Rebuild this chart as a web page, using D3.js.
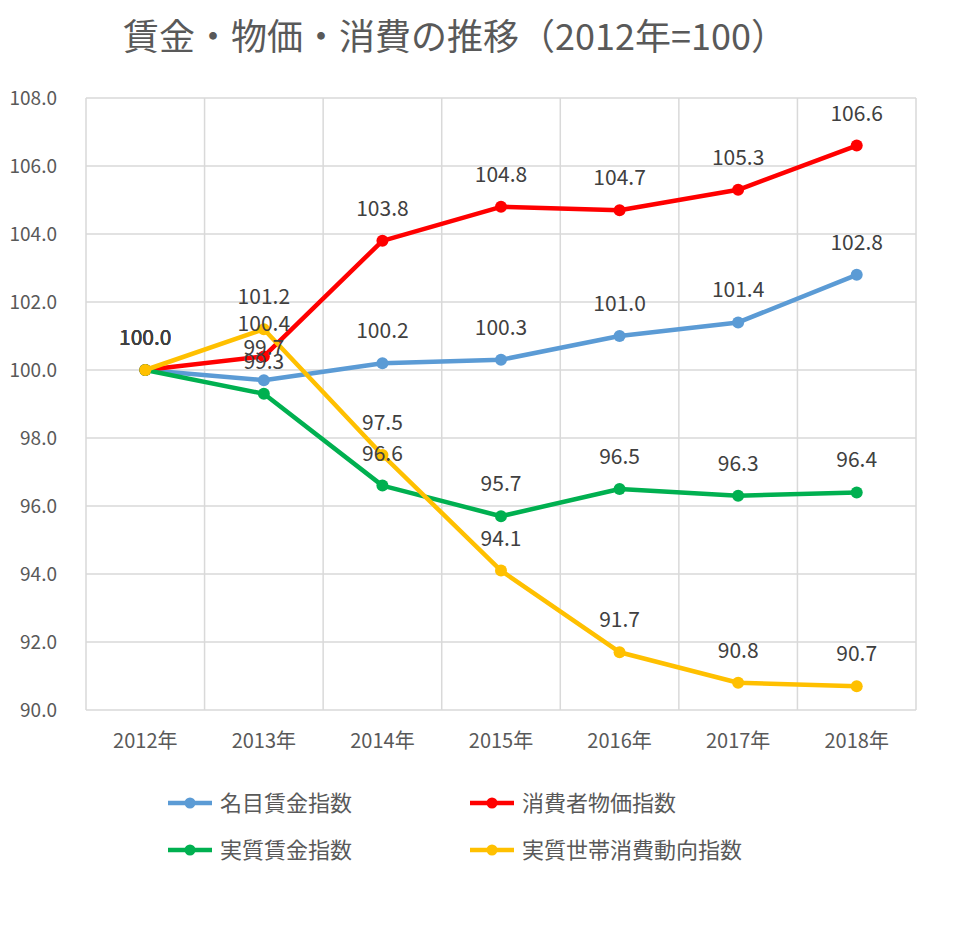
<!DOCTYPE html>
<html>
<head>
<meta charset="utf-8">
<script src="https://cdn.jsdelivr.net/npm/d3@7"></script>
<style>
  body { margin: 0; background: #fff; }
  text { font-family: "Noto Sans CJK JP", "Noto Sans", sans-serif; fill: #404040; }
</style>
</head>
<body>
<script>
const [width, height] = [954, 932];

const years = ['2012年', '2013年', '2014年', '2015年', '2016年', '2017年', '2018年'];
const nominalWage = [100.0, 99.7, 100.2, 100.3, 101.0, 101.4, 102.8];
const cpi = [100.0, 100.4, 103.8, 104.8, 104.7, 105.3, 106.6];
const realWage = [100.0, 99.3, 96.6, 95.7, 96.5, 96.3, 96.4];
const realConsumption = [100.0, 101.2, 97.5, 94.1, 91.7, 90.8, 90.7];
const yTicks = [90, 92, 94, 96, 98, 100, 102, 104, 106, 108];

const series = [
  {name: '名目賃金指数', color: '#5b9bd5', values: nominalWage},
  {name: '消費者物価指数', color: '#ff0000', values: cpi},
  {name: '実質賃金指数', color: '#00b050', values: realWage},
  {name: '実質世帯消費動向指数', color: '#ffc000', values: realConsumption}
];

const svg = d3.select('body').append('svg')
  .attr('width', width)
  .attr('height', height);

svg.append('text')
  .attr('x', 455)
  .attr('y', 50)
  .attr('text-anchor', 'middle')
  .style('font-size', '36px')
  .style('fill', '#595959')
  .text('賃金・物価・消費の推移（2012年=100）');

const x = d3.scaleBand().domain(years).range([86, 916]);
const y = d3.scaleLinear().domain([90, 108]).range([710, 98]);
const cx = d => x(d) + x.bandwidth() / 2;

// grid
const grid = svg.append('g').attr('stroke', '#d9d9d9').attr('stroke-width', 1.5);
grid.selectAll('line.h')
  .data(yTicks)
  .enter().append('line')
  .attr('x1', 86).attr('x2', 916)
  .attr('y1', d => y(d)).attr('y2', d => y(d));
grid.selectAll('line.v')
  .data(years.concat(['end']))
  .enter().append('line')
  .attr('x1', (d, i) => 86 + i * x.bandwidth())
  .attr('x2', (d, i) => 86 + i * x.bandwidth())
  .attr('y1', y(90)).attr('y2', y(108));

// axes
const axisY = d3.axisLeft(y).tickValues(yTicks).tickFormat(d3.format('.1f')).tickSize(0).tickPadding(29);
const gy = svg.append('g').attr('transform', 'translate(86,0)').call(axisY);
gy.select('.domain').remove();
gy.selectAll('text').style('font-size', '19px').style('fill', '#595959');

const axisX = d3.axisBottom(x).tickSize(0).tickPadding(24);
const gx = svg.append('g').attr('transform', `translate(0,${y(90)})`).call(axisX);
gx.select('.domain').remove();
gx.selectAll('text').style('font-size', '20px').style('fill', '#595959');

// lines
const line = d3.line()
  .x((d, i) => cx(years[i]))
  .y(d => y(d));

const sg = svg.append('g').selectAll('g')
  .data(series)
  .enter().append('g');

sg.append('path')
  .attr('d', d => line(d.values))
  .attr('fill', 'none')
  .attr('stroke', d => d.color)
  .attr('stroke-width', 4.5)
  .attr('stroke-linejoin', 'round');

sg.selectAll('circle')
  .data(d => d.values.map((v, i) => ({v, i, color: d.color})))
  .enter().append('circle')
  .attr('cx', d => cx(years[d.i]))
  .attr('cy', d => y(d.v))
  .attr('r', 6)
  .attr('fill', d => d.color);

// data labels, drawn above every line
const labels = series.flatMap(s => s.values.map((v, i) => ({v, i})));
svg.append('g').selectAll('text')
  .data(labels)
  .enter().append('text')
  .attr('x', d => cx(years[d.i]))
  .attr('y', d => y(d.v) - 25)
  .attr('text-anchor', 'middle')
  .style('font-size', '21px')
  .text(d => d3.format('.1f')(d.v));

// legend
const legend = svg.append('g').selectAll('g')
  .data(series)
  .enter().append('g')
  .attr('transform', (d, i) => `translate(${i % 2 === 0 ? 168 : 470},${i < 2 ? 803 : 850})`);
legend.append('line')
  .attr('x1', 0).attr('x2', 44)
  .attr('stroke', d => d.color)
  .attr('stroke-width', 4.5);
legend.append('circle')
  .attr('cx', 22).attr('r', 5.5)
  .attr('fill', d => d.color);
legend.append('text')
  .attr('x', 52)
  .attr('y', 8)
  .style('font-size', '22px')
  .style('fill', '#595959')
  .text(d => d.name);
</script>
</body>
</html>
